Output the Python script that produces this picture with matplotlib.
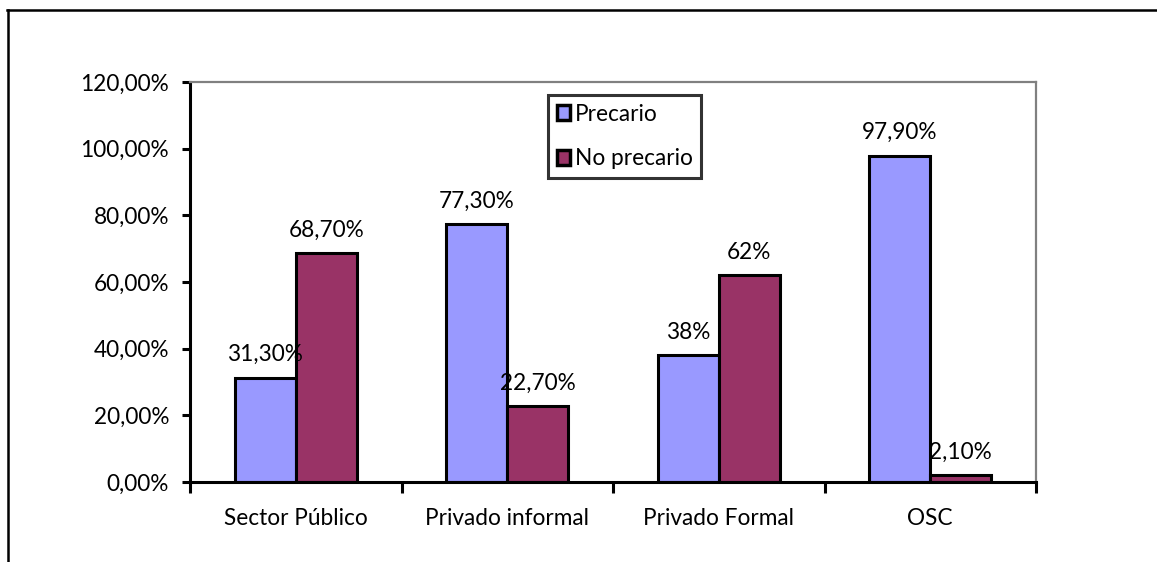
import matplotlib
matplotlib.use("Agg")
import matplotlib.pyplot as plt
from matplotlib.lines import Line2D
from matplotlib.ticker import FuncFormatter, FixedLocator
import numpy as np

plt.rcParams['font.family'] = ['Lato', 'DejaVu Sans']

# data
categories = ["Sector Público", "Privado informal", "Privado Formal", "OSC"]
precario = [31.3, 77.3, 38.0, 97.9]
no_precario = [68.7, 22.7, 62.0, 2.1]
precario_labels = ["31,30%", "77,30%", "38%", "97,90%"]
no_precario_labels = ["68,70%", "22,70%", "62%", "2,10%"]

W, H = 1157, 562
FS = 16.3
fig = plt.figure(figsize=(W / 100, H / 100), dpi=100)
ax = fig.add_axes([190 / W, 1 - 482 / H, (1036 - 190) / W, (482 - 82) / H])

x = np.arange(len(categories))
bw = 0.288
b1 = ax.bar(x - bw / 2, precario, bw, color='#9999FF', edgecolor='black', linewidth=2.2, label='Precario')
b2 = ax.bar(x + bw / 2, no_precario, bw, color='#993366', edgecolor='black', linewidth=2.2, label='No precario')

for rects, labs in ((b1, precario_labels), (b2, no_precario_labels)):
    for r, t in zip(rects, labs):
        ax.annotate(t, (r.get_x() + r.get_width() / 2, r.get_height()),
                    xytext=(0, 9), textcoords='offset points',
                    ha='center', va='bottom', fontsize=FS)

ax.set_xlim(-0.5, 3.5)
ax.set_ylim(0, 120)
ax.set_yticks(np.arange(0, 121, 20))
ax.yaxis.set_major_formatter(FuncFormatter(lambda v, p: f"{v:.2f}%".replace('.', ',')))
ax.set_xticks(x)
ax.set_xticklabels(categories)
ax.xaxis.set_minor_locator(FixedLocator(np.arange(-0.5, 4, 1)))
ax.tick_params(axis='x', which='major', length=0, pad=19, labelsize=FS)
ax.tick_params(axis='x', which='minor', length=8, width=2.2, direction='out')
ax.tick_params(axis='y', length=6, width=2.2, direction='out', labelsize=FS, pad=9)

for s in ('left', 'bottom'):
    ax.spines[s].set_linewidth(2.2)
    ax.spines[s].set_color('black')
for s in ('top', 'right'):
    ax.spines[s].set_linewidth(1.6)
    ax.spines[s].set_color('#808080')

leg = ax.legend(loc='upper left', bbox_to_anchor=((548 - 190) / (1036 - 190), 1 - (95 - 82) / 400),
                fontsize=FS, frameon=True, fancybox=False, handlelength=0.6, handleheight=0.6,
                handletextpad=0.2, borderpad=0.38, labelspacing=1.05, borderaxespad=0)
leg.get_frame().set_edgecolor('black')
leg.get_frame().set_linewidth(2.2)
for h in leg.legend_handles:
    h.set_linewidth(2.5)

# outer chart frame
fig.add_artist(Line2D([8 / W, 8 / W], [0, 1 - 10 / H], transform=fig.transFigure, color='black', linewidth=1.8))
fig.add_artist(Line2D([7 / W, 1], [1 - 10 / H, 1 - 10 / H], transform=fig.transFigure, color='black', linewidth=1.8))

fig.savefig("out.png", dpi=100)
